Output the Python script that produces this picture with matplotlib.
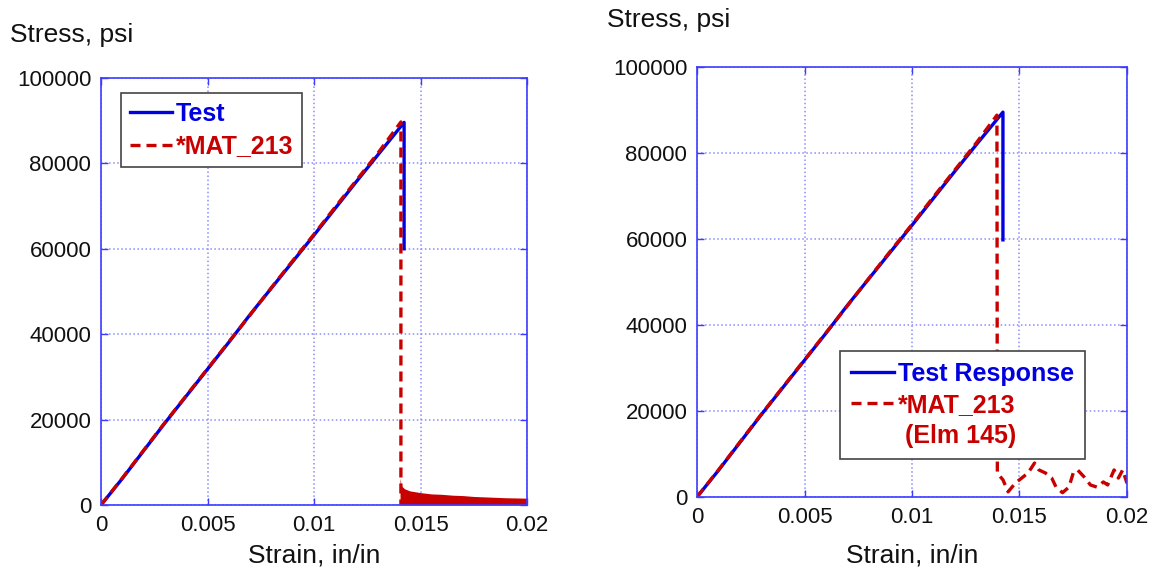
import matplotlib
matplotlib.use("Agg")
import matplotlib.pyplot as plt
from matplotlib.lines import Line2D

plt.rcParams['font.family'] = ['Liberation Sans', 'DejaVu Sans']

# ---------------- data ----------------
# Left panel
test_L_strain = [0, 0.001, 0.002, 0.003, 0.004, 0.005, 0.006, 0.007, 0.008, 0.009,
                 0.010, 0.011, 0.012, 0.013, 0.01423, 0.01423]
test_L_stress = [0, 6200, 12700, 19200, 25500, 31800, 38100, 44600, 50800, 57000,
                 63200, 69500, 75800, 82000, 89600, 60000]
mat_L_strain = [0, 0.001, 0.002, 0.003, 0.004, 0.005, 0.006, 0.007, 0.008, 0.009,
                0.010, 0.011, 0.012, 0.013, 0.01408, 0.01408]
mat_L_stress = [0, 6300, 12800, 19300, 25600, 31900, 38200, 44500, 50900, 57200,
                63400, 69800, 76100, 82400, 89700, 0]
tail_L_strain = [0.01404, 0.01410, 0.01425, 0.01450, 0.01500, 0.01550, 0.01600,
                 0.01650, 0.01700, 0.01750, 0.01800, 0.01850, 0.01900, 0.01950, 0.02]
tail_L_stress = [6300, 4500, 3800, 3300, 2900, 2600, 2500, 2300, 2200, 2000,
                 1900, 1800, 1700, 1650, 1600]

# Right panel
test_R_strain = [0, 0.001, 0.002, 0.003, 0.004, 0.005, 0.006, 0.007, 0.008, 0.009,
                 0.010, 0.011, 0.012, 0.013, 0.01423, 0.01423]
test_R_stress = [0, 6200, 12700, 19200, 25500, 31800, 38100, 44600, 50800, 57000,
                 63200, 69500, 75800, 82000, 89500, 59800]
mat_R_strain = [0, 0.001, 0.002, 0.003, 0.004, 0.005, 0.006, 0.007, 0.008, 0.009,
                0.010, 0.011, 0.012, 0.013, 0.01395, 0.01397,
                0.01423, 0.01447, 0.0148, 0.0151, 0.0154, 0.0157, 0.0159, 0.0162,
                0.0165, 0.0167, 0.0170, 0.0173, 0.0175, 0.0177, 0.0180, 0.0183,
                0.0186, 0.0189, 0.0191, 0.0194, 0.0196, 0.0198, 0.0200]
mat_R_stress = [0, 6300, 12800, 19300, 25600, 31900, 38200, 44500, 50900, 57200,
                63400, 69800, 76100, 82400, 88800, 5500,
                4000, 1200, 3200, 4400, 5600, 7900, 6300, 5600,
                4400, 2300, 1000, 2300, 5600, 6300, 4700, 2800,
                2300, 3500, 2800, 6300, 4400, 6300, 3200]

x_ticks = [0, 0.005, 0.01, 0.015, 0.02]
x_ticklabels = ['0', '0.005', '0.01', '0.015', '0.02']
y_ticks = [0, 20000, 40000, 60000, 80000, 100000]
y_ticklabels = ['0', '20000', '40000', '60000', '80000', '100000']

BLUE = '#0000e0'
RED = '#c80000'
AXC = '#3c3cff'
GRIDC = '#8c8cff'

fig = plt.figure(figsize=(11.56, 5.77), dpi=100)
axL = fig.add_axes([101/1156, 1-505/577, 426/1156, 427/577])
axR = fig.add_axes([697/1156, 1-497/577, 430/1156, 430/577])


def style(ax):
    ax.set_xlim(0, 0.02)
    ax.set_ylim(0, 100000)
    ax.set_xticks(x_ticks)
    ax.set_xticklabels(x_ticklabels)
    ax.set_yticks(y_ticks)
    ax.set_yticklabels(y_ticklabels)
    ax.tick_params(direction='in', top=True, right=True, color=AXC, length=5,
                   width=1, labelsize=16, pad=7, labelcolor='#111111')
    for s in ax.spines.values():
        s.set_color(AXC)
        s.set_linewidth(1.2)
    ax.grid(True, linestyle=':', color=GRIDC, linewidth=1.1)
    ax.set_axisbelow(True)


style(axL)
style(axR)

LEGKW = dict(prop={'weight': 'bold', 'size': 18}, fancybox=False,
             edgecolor='#444444', framealpha=1, handlelength=1.7,
             handletextpad=0.15, borderaxespad=0)

# Left
lt, = axL.plot(test_L_strain, test_L_stress, color=BLUE, lw=2.4, label='Test')
axL.fill_between(tail_L_strain, 0, tail_L_stress, color=RED, lw=0)
lm, = axL.plot(mat_L_strain, mat_L_stress, color=RED, lw=2.4, dashes=(3, 1.8),
               label='*MAT_213')
legL = axL.legend(handles=[lt, lm], loc='upper left', bbox_to_anchor=(0.047, 0.965),
                  labelspacing=0.35, borderpad=0.35, **LEGKW)
legL.get_frame().set_linewidth(1.2)
for t, c in zip(legL.get_texts(), [BLUE, RED]):
    t.set_color(c)

# Right
rt, = axR.plot(test_R_strain, test_R_stress, color=BLUE, lw=2.4, label='Test Response')
rm, = axR.plot(mat_R_strain, mat_R_stress, color=RED, lw=2.4, dashes=(3, 1.8),
               label='*MAT_213')
blank = Line2D([], [], color='none', label=' (Elm 145)')
legR = axR.legend(handles=[rt, rm, blank], loc='lower left', bbox_to_anchor=(0.333, 0.088),
                  labelspacing=0.28, borderpad=0.45, **LEGKW)
legR.get_frame().set_linewidth(1.2)
for t, c in zip(legR.get_texts(), [BLUE, RED, RED]):
    t.set_color(c)

# Axis titles
fig.text(10/1156, 1-35/577, 'Stress, psi', fontsize=19, ha='left', va='center', color='#111111')
fig.text(607/1156, 1-20/577, 'Stress, psi', fontsize=19, ha='left', va='center', color='#111111')
fig.text(314/1156, 1-555/577, 'Strain, in/in', fontsize=19, ha='center', va='center', color='#111111')
fig.text(912/1156, 1-555/577, 'Strain, in/in', fontsize=19, ha='center', va='center', color='#111111')

fig.savefig('out.png', dpi=100)
